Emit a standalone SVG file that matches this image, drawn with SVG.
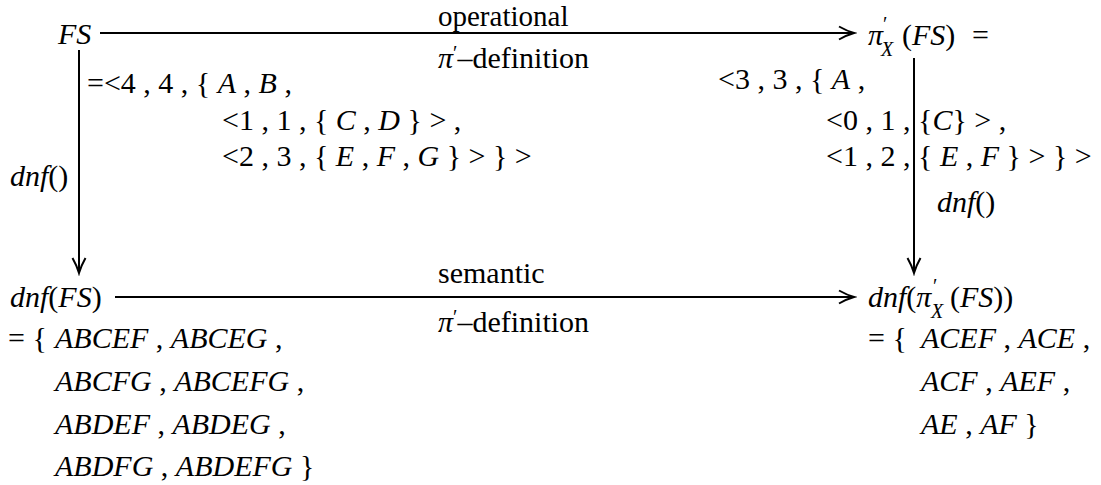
<svg xmlns="http://www.w3.org/2000/svg" width="1101" height="485" viewBox="0 0 1101 485">
<style>
text { font-family: "Liberation Serif", "Times New Roman", serif; font-size: 30px; fill: #000; white-space: pre; }
.i { font-style: italic; }
.sup { font-size: 20px; }
.sub { font-size: 20px; font-style: italic; }
.edge { stroke: #000; stroke-width: 2; fill: none; }
</style>
<defs>
<marker id="ah" markerUnits="userSpaceOnUse" markerWidth="20" markerHeight="16" refX="17" refY="8" orient="auto">
<path d="M2,1.5 Q10,6 17,8 Q10,10 2,14.5" fill="none" stroke="#000" stroke-width="2"/>
</marker>
</defs>
<rect width="1101" height="485" fill="#fff"/>
<g id="connectors">
<line class="edge" x1="100" y1="33" x2="854" y2="33" marker-end="url(#ah)"/>
<line class="edge" x1="115" y1="297" x2="854" y2="297" marker-end="url(#ah)"/>
<line class="edge" x1="79" y1="50" x2="79" y2="273" marker-end="url(#ah)"/>
<line class="edge" x1="914" y1="58" x2="914" y2="273" marker-end="url(#ah)"/>
<text x="438" y="26" style="font-size:29px">operational</text>
<text x="438" y="68"><tspan class="i">π</tspan><tspan class="sup" dy="-8">′</tspan><tspan dy="8">–definition</tspan></text>
<text x="438" y="283">semantic</text>
<text x="438" y="332"><tspan class="i">π</tspan><tspan class="sup" dy="-8">′</tspan><tspan dy="8">–definition</tspan></text>
<text x="10" y="186"><tspan class="i">dnf</tspan>()</text>
<text x="937" y="212"><tspan class="i">dnf</tspan>()</text>
</g>
<g id="node-FS">
<text class="i" x="58" y="44">FS</text>
<text x="87" y="93">=&lt;4 , 4 , { <tspan class="i">A</tspan> , <tspan class="i">B</tspan> ,</text>
<text x="222" y="130">&lt;1 , 1 , { <tspan class="i">C</tspan> , <tspan class="i">D</tspan> } &gt; ,</text>
<text x="222" y="166">&lt;2 , 3 , { <tspan class="i">E</tspan> , <tspan class="i">F</tspan> , <tspan class="i">G</tspan> } &gt; } &gt;</text>
</g>
<g id="node-proj">
<text x="868" y="45"><tspan class="i">π</tspan><tspan class="sup" x="883" y="31">′</tspan><tspan class="sub" x="881" y="56">X</tspan><tspan x="902" y="45">(</tspan><tspan class="i">FS</tspan>)<tspan x="972">=</tspan></text>
<text x="718" y="89">&lt;3 , 3 , { <tspan class="i">A</tspan> ,</text>
<text x="826" y="130">&lt;0 , 1 ,<tspan x="918">{<tspan class="i">C</tspan>} &gt; ,</tspan></text>
<text x="826" y="166">&lt;1 , 2 ,<tspan x="918">{ <tspan class="i">E</tspan> , <tspan class="i">F</tspan> } &gt; } &gt;</tspan></text>
</g>
<g id="node-dnfFS">
<text x="10" y="307"><tspan class="i">dnf</tspan>(<tspan class="i">FS</tspan>)</text>
<text x="8" y="348">= { <tspan class="i" x="55">ABCEF</tspan> , <tspan class="i">ABCEG</tspan> ,</text>
<text x="55" y="391"><tspan class="i">ABCFG</tspan> , <tspan class="i">ABCEFG</tspan> ,</text>
<text x="55" y="434"><tspan class="i">ABDEF</tspan> , <tspan class="i">ABDEG</tspan> ,</text>
<text x="55" y="476"><tspan class="i">ABDFG</tspan> , <tspan class="i">ABDEFG</tspan> }</text>
</g>
<g id="node-dnfProj">
<text x="868" y="307"><tspan class="i">dnf</tspan>(<tspan class="i">π</tspan><tspan class="sup" x="933" y="293">′</tspan><tspan class="sub" x="931" y="318">X</tspan><tspan x="950" y="307">(</tspan><tspan class="i">FS</tspan>))</text>
<text x="868" y="348">= { <tspan class="i" x="921">ACEF</tspan> , <tspan class="i">ACE</tspan> ,</text>
<text x="921" y="391"><tspan class="i">ACF</tspan> , <tspan class="i">AEF</tspan> ,</text>
<text x="921" y="434"><tspan class="i">AE</tspan> , <tspan class="i">AF</tspan> }</text>
</g>
</svg>
